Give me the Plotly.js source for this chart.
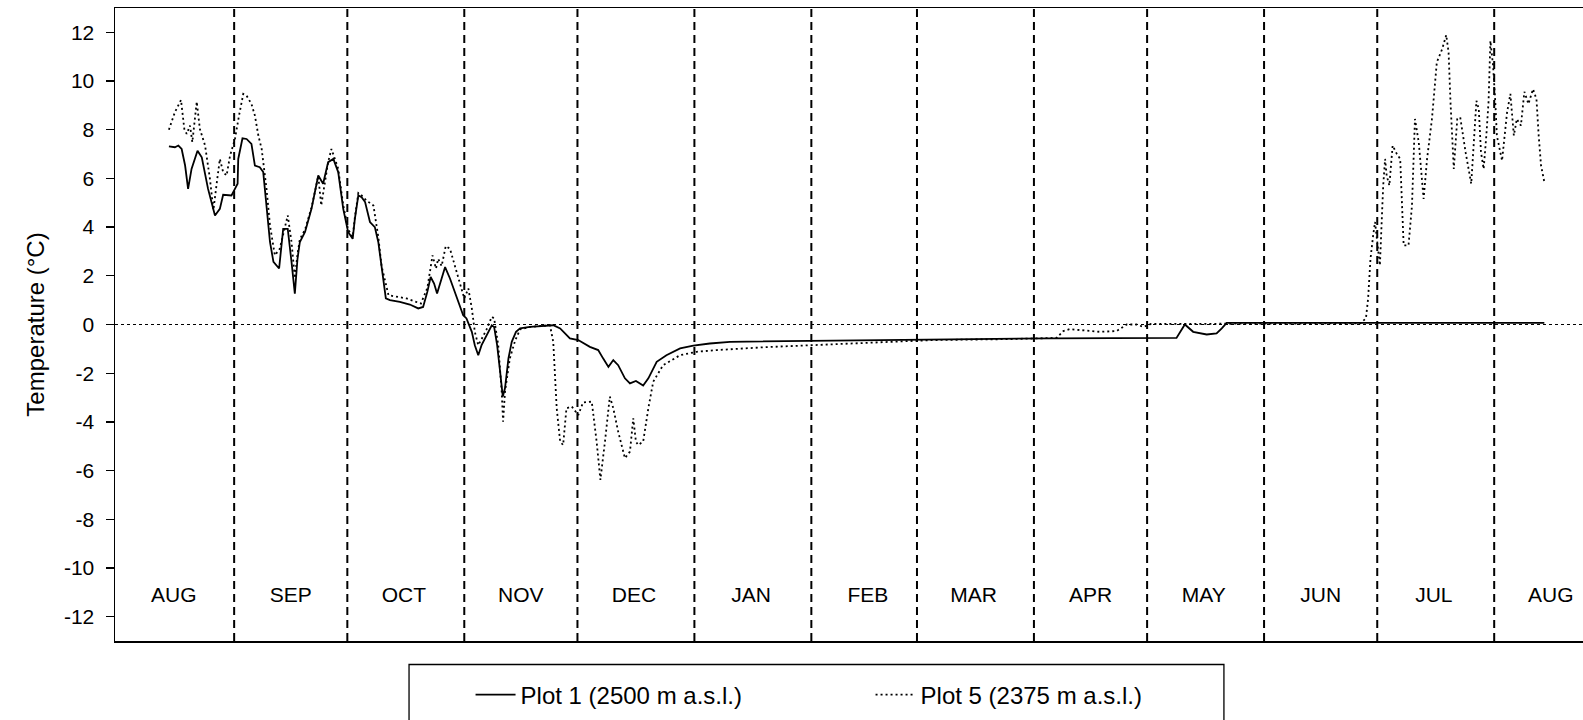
<!DOCTYPE html>
<html>
<head>
<meta charset="utf-8">
<script src="https://cdn.plot.ly/plotly-3.0.1.min.js"></script>
<style>
html,body{margin:0;padding:0;background:#fff;overflow:hidden;}
#chart{width:1583px;height:720px;}
</style>
</head>
<body>
<div id="chart"></div>
<script>
// Plot 1 (2500 m a.s.l.) - solid line
const plot1Dates = [
"2009-08-14 17:00","2009-08-16 07:00","2009-08-17 05:00","2009-08-18 02:00","2009-08-19 00:00",
"2009-08-19 19:00","2009-08-20 17:00","2009-08-22 07:00","2009-08-23 10:00","2009-08-25 02:00",
"2009-08-26 22:00","2009-08-28 05:00","2009-08-29 02:00","2009-08-31 07:00","2009-09-01 05:00",
"2009-09-01 22:00","2009-09-02 02:00","2009-09-03 05:00","2009-09-04 07:00","2009-09-05 14:00",
"2009-09-06 12:00","2009-09-07 19:00","2009-09-08 17:00","2009-09-09 14:00","2009-09-10 12:00",
"2009-09-11 10:00","2009-09-12 22:00","2009-09-14 00:00","2009-09-15 05:00","2009-09-16 05:00",
"2009-09-17 02:00","2009-09-17 19:00","2009-09-18 10:00","2009-09-19 19:00","2009-09-21 12:00",
"2009-09-23 07:00","2009-09-24 14:00","2009-09-25 22:00","2009-09-27 07:00","2009-09-28 14:00",
"2009-09-29 22:00","2009-10-01 05:00","2009-10-02 10:00","2009-10-03 00:00","2009-10-03 22:00",
"2009-10-04 19:00","2009-10-05 17:00","2009-10-07 00:00","2009-10-08 07:00","2009-10-09 05:00",
"2009-10-10 02:00","2009-10-11 05:00","2009-10-12 07:00","2009-10-14 22:00","2009-10-17 14:00",
"2009-10-19 19:00","2009-10-21 02:00","2009-10-22 05:00","2009-10-23 02:00","2009-10-24 00:00",
"2009-10-24 19:00","2009-10-26 00:00","2009-10-26 22:00","2009-10-28 05:00","2009-10-29 12:00",
"2009-10-30 22:00","2009-10-31 17:00","2009-11-01 14:00","2009-11-03 00:00","2009-11-03 19:00",
"2009-11-04 17:00","2009-11-05 14:00","2009-11-06 22:00","2009-11-08 07:00","2009-11-08 22:00",
"2009-11-09 17:00","2009-11-10 12:00","2009-11-11 05:00","2009-11-11 19:00","2009-11-12 17:00",
"2009-11-13 14:00","2009-11-14 17:00","2009-11-15 19:00","2009-11-18 10:00","2009-11-24 14:00",
"2009-11-26 10:00","2009-11-29 00:00","2009-12-01 05:00","2009-12-04 07:00","2009-12-06 12:00",
"2009-12-07 19:00","2009-12-09 05:00","2009-12-10 12:00","2009-12-11 19:00","2009-12-13 14:00",
"2009-12-14 22:00","2009-12-16 12:00","2009-12-18 10:00","2009-12-19 19:00","2009-12-22 00:00",
"2009-12-24 14:00","2009-12-28 05:00","2009-12-31 17:00","2010-01-05 02:00","2010-01-10 10:00",
"2010-01-25 00:00","2010-02-15 00:00","2010-03-10 00:00","2010-04-05 00:00","2010-05-08 19:00",
"2010-05-11 00:00","2010-05-13 05:00","2010-05-16 19:00","2010-05-19 10:00","2010-05-20 19:00",
"2010-05-22 02:00","2010-06-20 00:00","2010-07-20 00:00","2010-08-14 07:00"
];
const plot1Temps = [
7.32,7.28,7.35,7.21,6.53,
5.57,6.39,7.14,6.87,5.57,
4.48,4.75,5.33,5.30,5.57,
5.78,6.80,7.65,7.62,7.42,
6.53,6.46,6.26,4.75,3.39,
2.57,2.30,3.93,3.93,2.57,
1.27,2.70,3.39,3.80,4.75,
6.12,5.78,6.67,6.80,6.26,
4.75,3.80,3.52,4.34,5.30,
5.23,5.03,4.21,4.00,3.39,
2.30,1.07,1.00,0.93,0.82,
0.66,0.72,1.34,1.95,1.68,
1.27,1.89,2.36,1.89,1.34,
0.79,0.38,0.25,-0.30,-0.85,
-1.26,-0.85,-0.44,-0.03,-0.10,
-0.85,-1.94,-2.96,-2.62,-1.39,
-0.71,-0.30,-0.16,-0.10,-0.03,
-0.16,-0.57,-0.64,-0.92,-1.05,
-1.39,-1.74,-1.46,-1.67,-2.21,
-2.42,-2.32,-2.51,-2.21,-1.53,
-1.26,-0.98,-0.87,-0.78,-0.71,
-0.68,-0.64,-0.61,-0.57,-0.55,
0.00,-0.30,-0.41,-0.37,-0.16,
0.07,0.07,0.07,0.07
];

// Plot 5 (2375 m a.s.l.) - dotted line
const plot5Dates = [
"2009-08-14 17:00","2009-08-16 07:00","2009-08-17 22:00","2009-08-18 19:00","2009-08-19 10:00",
"2009-08-20 07:00","2009-08-20 22:00","2009-08-22 02:00","2009-08-22 22:00","2009-08-24 07:00",
"2009-08-25 14:00","2009-08-26 12:00","2009-08-27 10:00","2009-08-28 05:00","2009-08-29 02:00",
"2009-08-30 00:00","2009-08-30 22:00","2009-09-01 05:00","2009-09-02 07:00","2009-09-03 10:00",
"2009-09-04 07:00","2009-09-05 14:00","2009-09-06 12:00","2009-09-07 10:00","2009-09-08 07:00",
"2009-09-09 14:00","2009-09-10 12:00","2009-09-11 19:00","2009-09-13 02:00","2009-09-15 05:00",
"2009-09-16 05:00","2009-09-17 02:00","2009-09-17 19:00","2009-09-18 10:00","2009-09-19 19:00",
"2009-09-21 12:00","2009-09-23 07:00","2009-09-24 02:00","2009-09-25 22:00","2009-09-26 19:00",
"2009-09-28 14:00","2009-09-29 22:00","2009-10-01 05:00","2009-10-02 10:00","2009-10-03 00:00",
"2009-10-03 22:00","2009-10-04 19:00","2009-10-06 02:00","2009-10-07 22:00","2009-10-09 05:00",
"2009-10-10 02:00","2009-10-11 22:00","2009-10-16 17:00","2009-10-20 12:00","2009-10-22 05:00",
"2009-10-23 14:00","2009-10-24 12:00","2009-10-25 02:00","2009-10-26 00:00","2009-10-27 02:00",
"2009-10-28 05:00","2009-10-29 12:00","2009-10-30 22:00","2009-11-01 00:00","2009-11-02 02:00",
"2009-11-03 00:00","2009-11-03 19:00","2009-11-04 17:00","2009-11-05 14:00","2009-11-06 22:00",
"2009-11-08 07:00","2009-11-08 22:00","2009-11-10 00:00","2009-11-10 22:00","2009-11-11 07:00",
"2009-11-11 19:00","2009-11-13 02:00","2009-11-14 12:00","2009-11-15 19:00","2009-11-18 10:00",
"2009-11-23 17:00","2009-11-24 14:00","2009-11-25 12:00","2009-11-26 10:00","2009-11-27 05:00",
"2009-11-28 02:00","2009-11-29 12:00","2009-12-01 05:00","2009-12-02 12:00","2009-12-04 19:00",
"2009-12-06 02:00","2009-12-07 02:00","2009-12-08 07:00","2009-12-09 14:00","2009-12-10 12:00",
"2009-12-11 19:00","2009-12-13 14:00","2009-12-14 22:00","2009-12-15 19:00","2009-12-16 12:00",
"2009-12-17 02:00","2009-12-18 10:00","2009-12-19 19:00","2009-12-21 02:00","2009-12-23 17:00",
"2009-12-28 05:00","2010-01-01 14:00","2010-01-06 22:00","2010-01-20 00:00","2010-02-10 00:00",
"2010-03-05 00:00","2010-03-25 00:00","2010-04-07 00:00","2010-04-08 19:00","2010-04-10 12:00",
"2010-04-18 12:00","2010-04-22 22:00","2010-04-25 14:00","2010-04-28 05:00","2010-04-30 00:00",
"2010-05-02 00:00","2010-06-26 12:00","2010-06-28 00:00","2010-06-28 14:00","2010-06-29 05:00",
"2010-06-29 22:00","2010-06-30 10:00","2010-07-01 07:00","2010-07-01 17:00","2010-07-02 05:00",
"2010-07-02 14:00","2010-07-03 02:00","2010-07-03 12:00","2010-07-04 05:00","2010-07-05 02:00",
"2010-07-06 05:00","2010-07-07 02:00","2010-07-08 00:00","2010-07-09 07:00","2010-07-10 05:00",
"2010-07-11 00:00","2010-07-12 00:00","2010-07-12 19:00","2010-07-13 07:00","2010-07-14 05:00",
"2010-07-15 12:00","2010-07-16 19:00","2010-07-18 05:00","2010-07-19 07:00","2010-07-19 22:00",
"2010-07-20 10:00","2010-07-21 07:00","2010-07-22 05:00","2010-07-23 00:00","2010-07-24 10:00",
"2010-07-25 22:00","2010-07-27 07:00","2010-07-27 22:00","2010-07-28 12:00","2010-07-29 05:00",
"2010-07-29 22:00","2010-07-30 12:00","2010-07-31 00:00","2010-07-31 17:00","2010-08-01 07:00",
"2010-08-01 17:00","2010-08-03 02:00","2010-08-04 10:00","2010-08-05 07:00","2010-08-06 05:00",
"2010-08-07 00:00","2010-08-08 02:00","2010-08-09 00:00","2010-08-10 02:00","2010-08-11 07:00",
"2010-08-12 05:00","2010-08-12 19:00","2010-08-13 10:00","2010-08-14 07:00"
];
const plot5Temps = [
8.00,8.72,9.22,8.03,7.83,
8.17,7.49,9.15,8.03,7.35,
5.98,4.70,5.85,6.80,6.26,
6.12,6.94,7.62,8.58,9.47,
9.40,9.06,8.58,7.76,7.21,
5.57,4.07,2.84,3.11,4.48,
3.39,1.90,2.90,3.50,3.90,
4.80,6.10,4.89,6.67,7.21,
6.40,4.90,3.90,3.60,4.40,
5.40,5.30,5.09,4.89,3.60,
2.40,1.20,1.07,0.86,1.50,
2.84,2.30,2.70,2.40,3.22,
3.11,2.43,1.61,1.07,1.48,
0.66,-0.30,-0.85,-0.60,-0.20,
0.32,0.25,-0.85,-2.76,-3.99,
-2.76,-1.39,-0.65,-0.20,-0.10,
-0.03,-0.71,-3.44,-4.81,-4.95,
-3.44,-3.37,-3.72,-3.20,-3.17,
-4.81,-6.38,-4.81,-2.96,-3.44,
-4.40,-5.49,-5.22,-3.85,-4.81,
-4.95,-4.81,-3.44,-2.35,-1.67,
-1.26,-1.12,-1.05,-0.93,-0.78,
-0.64,-0.60,-0.55,-0.27,-0.19,
-0.30,-0.27,0.00,0.00,-0.10,
0.02,0.05,0.25,1.07,2.70,
3.66,4.21,2.98,2.43,4.34,
5.71,6.80,6.12,5.71,7.35,
7.00,6.80,3.25,3.25,4.89,
8.44,7.49,6.12,5.16,6.80,
8.44,10.77,11.31,11.89,11.17,
9.13,6.39,8.44,8.51,7.08,
5.78,9.19,8.85,7.08,6.39,
7.76,9.13,11.65,10.63,9.13,
7.76,6.73,8.72,9.47,7.76,
8.44,8.17,9.56,9.06,9.67,
9.26,7.76,6.53,5.85
];

// Month labels and first days of months
const monthLabels = ["AUG","SEP","OCT","NOV","DEC","JAN","FEB","MAR","APR","MAY","JUN","JUL","AUG"];
const monthStarts = ["2009-08-01","2009-09-01","2009-10-01","2009-11-01","2009-12-01","2010-01-01",
  "2010-02-01","2010-03-01","2010-04-01","2010-05-01","2010-06-01","2010-07-01","2010-08-01"];
const yTickVals = [-12,-10,-8,-6,-4,-2,0,2,4,6,8,10,12];
const yTickText = ["-12","-10","-8","-6","-4","-2","0","2","4","6","8","10","12"];

const FONT = "Liberation Sans, Arial, sans-serif";

// label centres: middle of each month (16th day)
const monthMid = monthStarts.map(s => s.slice(0,8) + "16");
const labelLevel = -11.2;

const traces = [
  {
    x: plot1Dates, y: plot1Temps, type: "scatter", mode: "lines",
    name: "Plot 1 (2500 m a.s.l.)",
    line: {color: "#000", width: 1.8, dash: "solid"}
  },
  {
    x: plot5Dates, y: plot5Temps, type: "scatter", mode: "lines",
    name: "Plot 5 (2375 m a.s.l.)",
    line: {color: "#000", width: 1.8, dash: "2px,3px"}
  },
  {
    x: monthMid, y: monthMid.map(() => labelLevel), type: "scatter", mode: "text",
    text: monthLabels, textposition: "middle center", showlegend: false, hoverinfo: "skip",
    textfont: {family: FONT, size: 21, color: "#000"}
  }
];

// month boundary lines (dashed verticals), skipping the one hidden behind the left axis
const monthLines = monthStarts.slice(1).map(d => ({
  type: "line", xref: "x", yref: "paper", x0: d, x1: d, y0: 0, y1: 1,
  line: {color: "#000", width: 2, dash: "8px,5px"}, layer: "below"
}));

const layout = {
  width: 1583, height: 720,
  margin: {l: 115, r: 0, t: 8, b: 79, autoexpand: false},
  paper_bgcolor: "#fff", plot_bgcolor: "#fff",
  font: {family: FONT, color: "#000"},
  showlegend: true,
  legend: {
    orientation: "h", x: 0.2422, xanchor: "left",
    yref: "container", y: 0.066, yanchor: "top",
    font: {family: FONT, size: 24, color: "#000"},
    bgcolor: "rgba(0,0,0,0)", borderwidth: 0,
    itemwidth: 40,
    entrywidth: 345, entrywidthmode: "pixels"
  },
  xaxis: {
    type: "date",
    range: ["2009-07-31 10:00", "2010-08-24 13:00"],
    showgrid: false,
    showticklabels: false, ticks: "",
    showline: true, mirror: true, linecolor: "#000", linewidth: 1.5,
    zeroline: false
  },
  yaxis: {
    range: [-13, 13],
    tickmode: "array", tickvals: yTickVals, ticktext: yTickText,
    ticks: "outside", ticklen: 8, tickwidth: 1.3, tickcolor: "#000",
    tickfont: {family: FONT, size: 21, color: "#000"},
    ticklabelstandoff: 7,
    showgrid: false, zeroline: false,
    showline: true, mirror: false, linecolor: "#000", linewidth: 1.5,
    title: {text: "Temperature (°C)", font: {family: FONT, size: 24, color: "#000"}, standoff: 12}
  },
  shapes: monthLines.concat([
    {type: "line", xref: "paper", yref: "y", x0: 0, x1: 1, y0: 0, y1: 0,
     line: {color: "#000", width: 1.2, dash: "3px,3px"}, layer: "below"},
    {type: "rect", xref: "paper", yref: "paper", x0: 0.2003, x1: 0.7554, y0: -0.0371, y1: -0.2,
     line: {color: "#000", width: 1.3}, fillcolor: "rgba(0,0,0,0)"}
  ])
};

Plotly.newPlot("chart", traces, layout, {displayModeBar: false, staticPlot: true});
</script>
</body>
</html>
